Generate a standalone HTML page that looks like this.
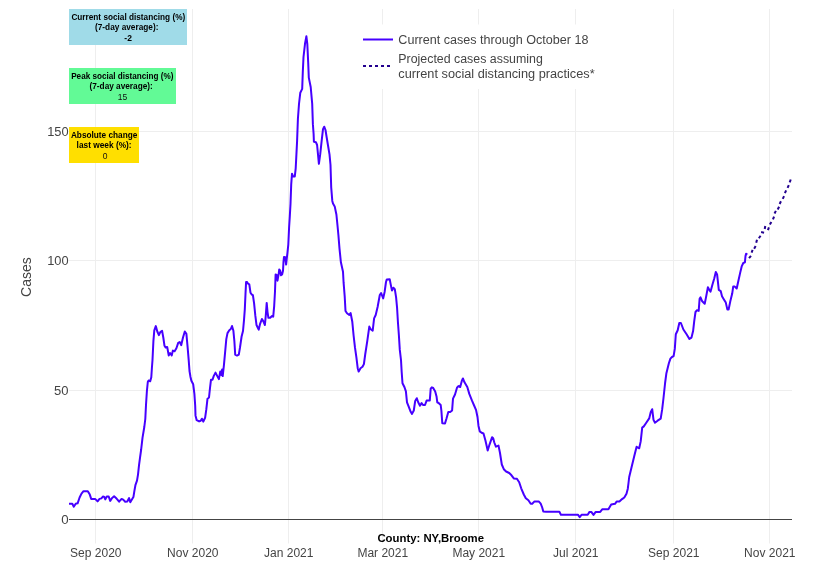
<!DOCTYPE html>
<html><head><meta charset="utf-8"><style>
html,body{margin:0;padding:0;background:#fff;}
body{width:824px;height:586px;overflow:hidden;}
svg{display:block;will-change:transform;}
text{font-family:"Liberation Sans",sans-serif;}
.tk{font-size:12px;fill:#444;}
.ttl{font-size:14px;fill:#444;}
.cty{font-size:11px;font-weight:bold;fill:#000;}
.lg{font-size:12px;fill:#444;}
.ab{font-size:8.5px;font-weight:bold;fill:#000;}
.an{font-size:8.5px;fill:#111;}
</style></head><body>
<svg width="824" height="586" viewBox="0 0 824 586">
<rect x="0" y="0" width="824" height="586" fill="#fff"/>
<line x1="95.5" y1="9" x2="95.5" y2="543.5" stroke="#eee" stroke-width="1"/>
<line x1="192.5" y1="9" x2="192.5" y2="543.5" stroke="#eee" stroke-width="1"/>
<line x1="288.5" y1="9" x2="288.5" y2="543.5" stroke="#eee" stroke-width="1"/>
<line x1="382.5" y1="9" x2="382.5" y2="543.5" stroke="#eee" stroke-width="1"/>
<line x1="478.5" y1="9" x2="478.5" y2="543.5" stroke="#eee" stroke-width="1"/>
<line x1="575.5" y1="9" x2="575.5" y2="543.5" stroke="#eee" stroke-width="1"/>
<line x1="673.5" y1="9" x2="673.5" y2="543.5" stroke="#eee" stroke-width="1"/>
<line x1="769.5" y1="9" x2="769.5" y2="543.5" stroke="#eee" stroke-width="1"/>
<line x1="69" y1="131.5" x2="792" y2="131.5" stroke="#eee" stroke-width="1"/>
<line x1="69" y1="260.5" x2="792" y2="260.5" stroke="#eee" stroke-width="1"/>
<line x1="69" y1="390.5" x2="792" y2="390.5" stroke="#eee" stroke-width="1"/>
<line x1="69" y1="519.5" x2="792" y2="519.5" stroke="#444" stroke-width="1"/>
<text x="68.6" y="523.9" text-anchor="end" class="tk" textLength="7.4" lengthAdjust="spacingAndGlyphs">0</text>
<text x="68.6" y="394.9" text-anchor="end" class="tk" textLength="14.5" lengthAdjust="spacingAndGlyphs">50</text>
<text x="68.6" y="264.9" text-anchor="end" class="tk" textLength="21.4" lengthAdjust="spacingAndGlyphs">100</text>
<text x="68.6" y="135.9" text-anchor="end" class="tk" textLength="21.4" lengthAdjust="spacingAndGlyphs">150</text>
<text x="95.8" y="557" text-anchor="middle" class="tk">Sep 2020</text>
<text x="192.8" y="557" text-anchor="middle" class="tk">Nov 2020</text>
<text x="288.8" y="557" text-anchor="middle" class="tk">Jan 2021</text>
<text x="382.8" y="557" text-anchor="middle" class="tk">Mar 2021</text>
<text x="478.8" y="557" text-anchor="middle" class="tk">May 2021</text>
<text x="575.8" y="557" text-anchor="middle" class="tk">Jul 2021</text>
<text x="673.8" y="557" text-anchor="middle" class="tk">Sep 2021</text>
<text x="769.8" y="557" text-anchor="middle" class="tk">Nov 2021</text>
<text transform="translate(31.3,277.1) rotate(-90)" text-anchor="middle" class="ttl">Cases</text>
<text x="430.7" y="542" text-anchor="middle" class="cty" textLength="106.6" lengthAdjust="spacingAndGlyphs">County: NY,Broome</text>
<path d="M69.0,503.8 L72.3,503.8 L73.8,506.7 L75.7,503.8 L77.6,503.3 L79.6,497.5 L81.5,493.6 L83.5,491.2 L87.8,491.2 L89.8,494.6 L91.2,498.9 L95.1,498.9 L97.6,501.4 L99.5,498.9 L101.4,498.4 L102.9,496.5 L104.3,497.0 L105.3,499.4 L106.8,496.5 L108.7,496.5 L110.2,500.9 L112.1,498.0 L114.1,496.3 L116.0,498.0 L117.0,499.1 L119.1,501.7 L121.6,498.9 L123.2,499.6 L125.2,501.7 L127.3,501.4 L129.1,498.1 L130.3,502.2 L131.9,499.6 L133.4,497.1 L134.4,490.9 L135.5,484.8 L137.0,480.7 L138.0,474.6 L139.0,465.3 L140.1,457.2 L141.1,450.0 L142.5,437.9 L144.3,427.0 L145.3,419.0 L146.0,405.0 L146.9,391.0 L147.8,382.0 L148.6,380.5 L150.2,381.3 L151.3,377.2 L151.9,368.0 L152.5,360.0 L153.4,341.1 L154.3,330.3 L155.8,326.1 L157.3,331.5 L158.9,335.1 L160.3,332.1 L162.1,330.9 L163.3,337.5 L164.5,345.8 L165.7,347.6 L167.2,347.0 L168.7,355.4 L170.1,353.0 L171.7,355.4 L172.9,350.6 L174.6,351.2 L176.4,348.2 L178.2,342.9 L179.7,342.0 L181.2,345.2 L183.0,337.5 L184.8,331.5 L186.4,333.9 L187.5,345.8 L188.7,360.2 L189.5,371.0 L190.5,377.0 L191.4,380.8 L193.2,384.3 L194.4,393.9 L195.2,405.8 L195.5,415.4 L196.7,420.2 L199.1,421.4 L200.7,420.8 L201.9,418.7 L203.3,421.6 L205.1,417.8 L206.3,409.4 L207.5,398.7 L209.0,397.5 L210.0,388.0 L211.0,379.7 L212.5,379.7 L213.7,376.1 L215.5,372.6 L217.3,376.1 L218.9,379.1 L220.3,371.4 L221.3,375.0 L222.1,369.6 L222.7,376.1 L223.9,365.4 L225.1,352.3 L226.3,339.1 L227.5,333.1 L229.3,330.2 L230.8,329.0 L232.0,326.0 L233.4,330.8 L234.4,341.5 L235.2,354.6 L237.0,355.6 L238.8,354.6 L240.0,347.5 L241.6,336.5 L243.0,331.0 L244.0,320.2 L244.8,309.4 L245.5,293.9 L246.1,281.9 L246.9,281.9 L248.1,283.7 L249.3,284.3 L250.5,292.7 L251.7,294.5 L252.9,295.1 L254.1,303.4 L255.3,315.4 L256.5,325.0 L258.7,329.7 L260.1,323.8 L261.9,319.0 L263.4,321.4 L264.9,325.0 L265.8,315.4 L266.7,302.9 L267.5,311.8 L268.4,317.8 L270.2,317.8 L272.0,316.0 L273.2,316.6 L274.2,305.8 L275.0,291.5 L275.6,274.5 L276.7,274.9 L277.5,280.7 L278.7,273.8 L279.2,269.5 L280.2,270.7 L281.0,275.3 L282.1,274.5 L283.0,270.7 L283.5,261.5 L284.0,256.9 L285.2,257.3 L286.1,264.6 L286.7,259.2 L287.5,252.3 L288.3,244.6 L289.1,227.3 L289.8,216.4 L290.5,204.0 L291.2,184.6 L292.0,173.7 L293.0,176.4 L294.8,176.4 L295.7,168.3 L296.4,154.6 L297.1,140.9 L297.9,119.0 L299.0,104.0 L300.3,92.7 L302.2,88.9 L302.8,72.0 L303.5,57.0 L305.0,43.8 L306.4,36.3 L307.3,43.8 L308.2,62.6 L308.8,77.6 L310.7,87.0 L312.2,103.9 L312.9,124.4 L313.6,133.8 L313.9,141.7 L315.9,142.2 L317.1,145.0 L318.0,154.4 L318.9,163.8 L320.2,154.4 L321.6,141.3 L323.0,129.1 L324.2,126.7 L325.5,130.0 L326.7,137.5 L328.1,146.0 L329.5,154.4 L330.5,165.0 L331.2,187.3 L332.3,200.9 L333.0,203.6 L334.7,206.4 L336.4,214.5 L337.5,225.5 L338.4,235.0 L339.5,248.6 L340.9,262.3 L343.0,271.8 L343.6,282.7 L344.7,296.4 L345.5,311.0 L347.0,313.2 L349.3,315.0 L350.6,313.0 L352.3,321.8 L353.6,335.5 L355.0,347.7 L356.4,357.3 L357.7,368.2 L358.7,371.6 L360.5,368.2 L362.5,366.8 L363.9,364.1 L365.2,354.5 L367.3,340.9 L369.3,326.6 L370.7,329.3 L372.7,330.7 L374.1,318.4 L375.7,315.0 L377.6,307.0 L379.8,295.0 L381.1,293.0 L383.2,298.4 L384.6,292.0 L386.0,282.0 L386.8,279.4 L389.7,279.3 L391.1,286.4 L392.0,290.5 L393.4,287.7 L394.8,289.1 L396.1,297.3 L397.1,308.2 L397.9,321.8 L398.9,335.5 L399.8,349.9 L401.0,360.0 L401.7,372.3 L402.5,383.2 L404.5,387.3 L405.9,391.4 L407.0,402.3 L408.6,406.4 L410.7,411.8 L412.0,413.9 L413.8,410.5 L415.2,400.9 L416.8,398.2 L418.2,402.3 L420.0,405.7 L421.6,403.0 L423.0,405.0 L425.0,405.0 L426.6,400.6 L429.8,400.4 L430.7,388.6 L431.8,387.3 L433.2,388.0 L435.2,391.4 L436.6,396.8 L437.3,402.3 L438.6,403.0 L440.7,405.0 L441.4,410.9 L442.3,423.3 L445.0,423.4 L446.5,418.5 L448.3,412.0 L450.2,412.0 L452.1,410.5 L453.0,398.6 L455.0,394.5 L457.0,387.7 L458.4,386.1 L460.2,387.0 L461.8,380.9 L462.9,378.5 L464.5,382.3 L467.3,387.0 L469.3,393.9 L472.0,400.7 L474.1,405.5 L476.1,410.2 L477.5,417.0 L478.5,425.9 L479.8,431.4 L481.6,432.8 L483.5,433.5 L485.5,440.8 L487.7,450.5 L489.6,444.3 L492.1,437.2 L493.2,438.2 L494.3,442.5 L495.9,446.7 L498.5,445.6 L500.0,453.0 L501.8,464.5 L503.8,469.2 L506.1,471.5 L509.2,473.0 L511.5,475.3 L513.8,478.4 L516.9,478.8 L519.2,482.2 L521.2,488.3 L523.8,494.5 L525.8,498.3 L528.4,500.3 L530.7,503.7 L532.2,503.7 L534.5,501.4 L538.7,501.4 L540.7,503.7 L542.2,507.5 L543.3,511.4 L546.0,511.8 L559.4,511.8 L560.9,514.7 L577.9,514.7 L579.7,517.1 L581.7,514.7 L587.7,514.7 L589.5,511.9 L591.3,511.9 L593.5,514.9 L595.7,511.9 L600.2,511.9 L602.2,509.3 L608.4,509.3 L611.2,504.6 L615.0,503.8 L616.6,501.6 L619.4,501.6 L622.1,499.1 L624.3,497.5 L626.5,493.7 L627.8,488.7 L628.5,483.0 L629.2,477.0 L631.5,467.5 L634.1,456.8 L636.6,446.8 L639.2,448.3 L640.7,441.4 L642.2,427.6 L643.8,426.4 L646.1,423.0 L649.2,418.4 L650.7,412.3 L652.2,409.2 L653.5,419.9 L655.0,422.7 L657.6,420.7 L660.7,418.7 L662.2,409.2 L663.5,398.0 L665.1,383.0 L666.4,373.2 L668.8,363.5 L670.4,358.6 L672.0,357.0 L673.6,356.2 L674.8,348.9 L675.8,334.3 L677.7,330.3 L679.3,323.0 L680.9,323.0 L683.4,329.5 L686.6,334.3 L689.4,338.9 L691.5,337.6 L693.1,331.1 L694.2,321.4 L695.5,312.0 L697.0,310.2 L698.7,310.9 L699.6,298.7 L700.5,297.4 L702.2,301.3 L704.7,303.8 L706.0,297.4 L707.9,287.2 L709.2,289.8 L710.5,291.7 L712.4,284.7 L714.3,278.3 L715.8,271.9 L717.1,274.4 L718.8,289.8 L720.7,291.1 L722.0,296.2 L723.9,299.4 L725.8,302.6 L727.4,309.6 L728.6,309.6 L730.3,301.3 L732.2,293.6 L733.2,286.6 L734.8,286.6 L736.7,288.5 L738.4,280.8 L740.1,273.1 L741.8,266.1 L743.3,263.0 L744.9,262.3 L745.5,256.0 L746.1,253.7 L747.3,254.6" fill="none" stroke="#4600ff" stroke-width="2" stroke-linejoin="round"/>
<line x1="749.04" y1="258.15" x2="750.96" y2="255.85" stroke="#22008f" stroke-width="2"/>
<line x1="751.59" y1="252.61" x2="752.61" y2="249.79" stroke="#22008f" stroke-width="2"/>
<line x1="754.15" y1="248.70" x2="755.65" y2="246.10" stroke="#22008f" stroke-width="2"/>
<line x1="756.21" y1="242.75" x2="756.99" y2="239.85" stroke="#22008f" stroke-width="2"/>
<line x1="758.84" y1="238.23" x2="760.56" y2="235.77" stroke="#22008f" stroke-width="2"/>
<line x1="761.13" y1="232.09" x2="764.07" y2="232.71" stroke="#22008f" stroke-width="2"/>
<line x1="764.74" y1="228.98" x2="765.26" y2="226.02" stroke="#22008f" stroke-width="2"/>
<line x1="767.89" y1="230.21" x2="768.91" y2="227.39" stroke="#22008f" stroke-width="2"/>
<line x1="769.85" y1="224.60" x2="771.35" y2="222.00" stroke="#22008f" stroke-width="2"/>
<line x1="772.93" y1="219.39" x2="774.07" y2="216.61" stroke="#22008f" stroke-width="2"/>
<line x1="774.53" y1="213.54" x2="775.87" y2="210.86" stroke="#22008f" stroke-width="2"/>
<line x1="777.70" y1="209.42" x2="779.10" y2="206.78" stroke="#22008f" stroke-width="2"/>
<line x1="779.66" y1="203.96" x2="780.94" y2="201.24" stroke="#22008f" stroke-width="2"/>
<line x1="782.75" y1="198.85" x2="784.05" y2="196.15" stroke="#22008f" stroke-width="2"/>
<line x1="784.90" y1="193.17" x2="786.10" y2="190.43" stroke="#22008f" stroke-width="2"/>
<line x1="787.61" y1="187.98" x2="788.79" y2="185.22" stroke="#22008f" stroke-width="2"/>
<line x1="789.70" y1="182.32" x2="790.70" y2="179.48" stroke="#22008f" stroke-width="2"/>
<rect x="356" y="24.5" width="245" height="64.5" fill="#fff"/>
<line x1="363" y1="39.5" x2="393" y2="39.5" stroke="#4600ff" stroke-width="2"/>
<line x1="363" y1="66" x2="393" y2="66" stroke="#22008f" stroke-width="2" stroke-dasharray="3,3"/>
<text x="398.3" y="43.8" class="lg" textLength="190.2" lengthAdjust="spacingAndGlyphs">Current cases through October 18</text>
<text x="398.3" y="62.6" class="lg" textLength="144.5" lengthAdjust="spacingAndGlyphs">Projected cases assuming</text>
<text x="398.3" y="78.4" class="lg" textLength="196.4" lengthAdjust="spacingAndGlyphs">current social distancing practices*</text>
<rect x="69" y="9" width="118" height="36" fill="#a0dbe8"/>
<text x="128.30" y="19.6" text-anchor="middle" class="ab" textLength="113.8" lengthAdjust="spacingAndGlyphs">Current social distancing (%)</text>
<text x="126.70" y="29.9" text-anchor="middle" class="ab" textLength="63.4" lengthAdjust="spacingAndGlyphs">(7-day average):</text>
<text x="128.10" y="40.9" text-anchor="middle" class="ab">-2</text>
<rect x="69" y="68" width="107" height="36" fill="#62fa96"/>
<text x="122.35" y="78.7" text-anchor="middle" class="ab" textLength="102.3" lengthAdjust="spacingAndGlyphs">Peak social distancing (%)</text>
<text x="121.15" y="88.9" text-anchor="middle" class="ab" textLength="63.3" lengthAdjust="spacingAndGlyphs">(7-day average):</text>
<text x="122.45" y="99.9" text-anchor="middle" class="an">15</text>
<rect x="69" y="127" width="70" height="36" fill="#ffdf00"/>
<text x="104.10" y="137.7" text-anchor="middle" class="ab" textLength="66.4" lengthAdjust="spacingAndGlyphs">Absolute change</text>
<text x="104.10" y="147.9" text-anchor="middle" class="ab" textLength="55.0" lengthAdjust="spacingAndGlyphs">last week (%):</text>
<text x="105.05" y="158.9" text-anchor="middle" class="an">0</text>
</svg>
</body></html>
